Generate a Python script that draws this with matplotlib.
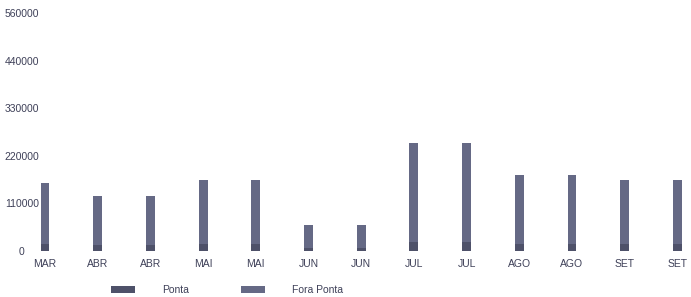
import matplotlib.pyplot as plt
import numpy as np

# monthly consumption, two readings per month
months = ['MAR', 'ABR', 'ABR', 'MAI', 'MAI', 'JUN', 'JUN', 'JUL', 'JUL',
          'AGO', 'AGO', 'SET', 'SET']
ponta = [16000, 13000, 13000, 16000, 16000, 7000, 7000, 20000, 20000,
         17000, 17000, 16000, 16000]
fora_ponta = [142000, 115000, 115000, 147000, 147000, 53000, 53000, 230000, 230000,
              159000, 159000, 149000, 149000]
yticks = [0, 110000, 220000, 330000, 440000, 550000]
ytick_labels = ['0', '110000', '220000', '330000', '440000', '560000']

plt.rcParams['font.family'] = ['Liberation Sans', 'DejaVu Sans']
text_color = '#3e4058'

fig = plt.figure(figsize=(6.91, 2.97), dpi=100)
ax = fig.add_axes([40 / 691, 46 / 297, 651 / 691, 238 / 297])

x = np.arange(len(months))
ax.bar(x, ponta, width=0.17, color='#4e5169', label='Ponta')
ax.bar(x, fora_ponta, width=0.17, bottom=ponta, color='#656985', label='Fora Ponta')

ax.set_xlim(-0.095, 12.258)
ax.set_ylim(0, 550000)
ax.set_xticks(x)
ax.set_xticklabels(months)
ax.set_yticks(yticks)
ax.set_yticklabels(ytick_labels)

for s in ax.spines.values():
    s.set_visible(False)
ax.tick_params(axis='x', length=0, pad=5.5, labelsize=7.5, labelcolor=text_color)
ax.tick_params(axis='y', length=0, pad=13, labelsize=7.5, labelcolor=text_color)
for lab in ax.get_yticklabels():
    lab.set_horizontalalignment('center')

fig.legend(loc='center left', bbox_to_anchor=(111 / 691, 1 - 290 / 297),
           ncol=2, frameon=False, fontsize=7.5, labelcolor=text_color,
           handlelength=2.3, handleheight=0.6, handletextpad=2.6,
           columnspacing=5.0, borderpad=0, borderaxespad=0)

fig.savefig('out.png', dpi=100)
